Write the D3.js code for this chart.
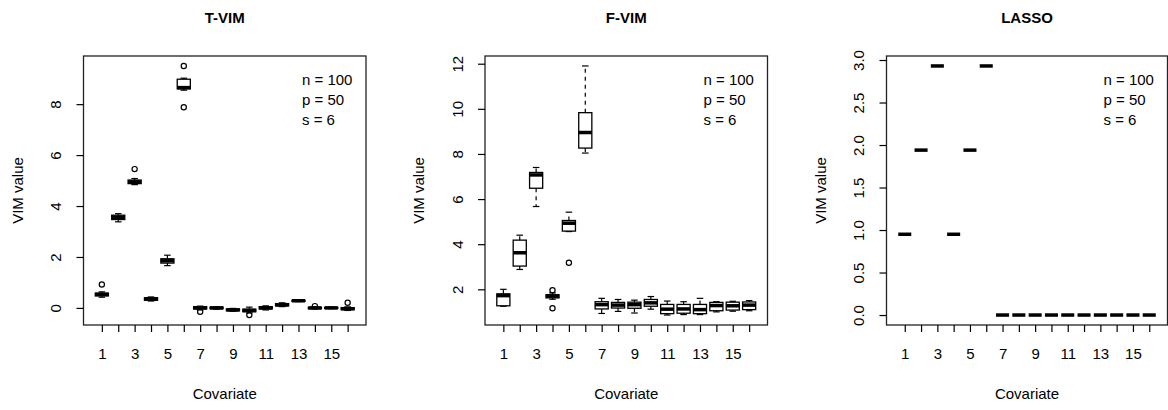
<!DOCTYPE html>
<html>
<head>
<meta charset="utf-8">
<script src="https://cdn.jsdelivr.net/npm/d3@7"></script>
<style>
	body { margin: 0; background: #fff; }
	svg { display: block; font-family: "Liberation Sans", Arial, sans-serif; }
</style>
</head>
<body>
<svg id="chart" width="1168" height="410"></svg>
<script>

var covariates = [1, 2, 3, 4, 5, 6, 7, 8, 9, 10, 11, 12, 13, 14, 15, 16];
var xLabels = [1, 3, 5, 7, 9, 11, 13, 15];
var legendLines = ['n = 100', 'p = 50', 's = 6'];

// T-VIM
var tvimLow  = [0.42, 3.38, 4.84, 0.27, 1.66, 8.55, -0.08, -0.05, -0.13, -0.20, -0.08, 0.05, 0.25, -0.04, -0.03, -0.10];
var tvimQ1   = [0.47, 3.47, 4.88, 0.30, 1.76, 8.60, -0.04, -0.03, -0.11, -0.15, -0.04, 0.08, 0.26, -0.03, -0.02, -0.07];
var tvimMed  = [0.53, 3.56, 4.95, 0.35, 1.85, 8.65, 0.00, 0.00, -0.08, -0.10, 0.00, 0.12, 0.28, 0.00, 0.00, -0.03];
var tvimQ3   = [0.58, 3.64, 5.02, 0.40, 1.93, 8.98, 0.05, 0.03, -0.04, -0.05, 0.05, 0.17, 0.30, 0.02, 0.02, 0.01];
var tvimHigh = [0.63, 3.70, 5.08, 0.43, 2.07, 9.02, 0.07, 0.05, -0.02, 0.03, 0.08, 0.20, 0.31, 0.04, 0.03, 0.04];
var tvimOut  = [[1, 0.92], [3, 5.45], [6, 9.50], [6, 7.88], [7, -0.15], [10, -0.28], [14, 0.07], [16, 0.20]];
var tvimTicks = [0, 2, 4, 6, 8];

// F-VIM
var fvimLow  = [1.25, 2.88, 5.67, 1.56, 4.56, 8.04, 0.93, 1.02, 0.95, 1.12, 0.86, 0.88, 0.88, 1.00, 1.03, 1.05];
var fvimQ1   = [1.27, 3.03, 6.48, 1.62, 4.58, 8.26, 1.13, 1.17, 1.16, 1.25, 0.92, 0.94, 0.92, 1.05, 1.08, 1.10];
var fvimMed  = [1.72, 3.62, 7.07, 1.70, 4.93, 8.95, 1.32, 1.30, 1.32, 1.40, 1.12, 1.13, 1.10, 1.28, 1.27, 1.30];
var fvimQ3   = [1.80, 4.18, 7.18, 1.76, 5.05, 9.83, 1.45, 1.42, 1.43, 1.55, 1.33, 1.33, 1.33, 1.42, 1.43, 1.44];
var fvimHigh = [2.00, 4.40, 7.40, 1.84, 5.42, 11.90, 1.60, 1.55, 1.52, 1.68, 1.48, 1.45, 1.60, 1.45, 1.47, 1.50];
var fvimOut  = [[4, 1.96], [4, 1.16], [5, 3.18]];
var fvimTicks = [2, 4, 6, 8, 10, 12];

// LASSO (no spread: every stat equals the median)
var lassoMed = [0.95, 1.94, 2.93, 0.95, 1.94, 2.93, 0, 0, 0, 0, 0, 0, 0, 0, 0, 0];
var lassoOut = [];
var lassoTicks = [0, 0.5, 1, 1.5, 2, 2.5, 3];

var panels = [
	{ title: 'T-VIM', left: 83.5, right: 366, low: tvimLow, q1: tvimQ1, med: tvimMed, q3: tvimQ3, high: tvimHigh, out: tvimOut, ticks: tvimTicks, fmt: d3.format('d') },
	{ title: 'F-VIM', left: 485, right: 767.5, low: fvimLow, q1: fvimQ1, med: fvimMed, q3: fvimQ3, high: fvimHigh, out: fvimOut, ticks: fvimTicks, fmt: d3.format('d') },
	{ title: 'LASSO', left: 886.5, right: 1167.5, low: lassoMed, q1: lassoMed, med: lassoMed, q3: lassoMed, high: lassoMed, out: lassoOut, ticks: lassoTicks, fmt: d3.format('.1f') }
];

var plotTop = 56;
var plotBottom = 325;
var svg = d3.select('#chart');

panels.forEach(function(p) {

	var vals = p.low.concat(p.high, p.out.map(function(d) { return d[1]; }));
	var ext = d3.extent(vals);
	var pad = (ext[1] - ext[0]) * 0.04;

	var x = d3.scaleLinear().domain([-0.12, 17.12]).range([p.left, p.right]);
	var y = d3.scaleLinear().domain([ext[0] - pad, ext[1] + pad]).range([plotBottom, plotTop]);
	var bw = (x(1.8) - x(1)) / 2;

	var g = svg.append('g');

	// boxes
	var box = g.selectAll('g.box').data(covariates).enter().append('g').attr('class', 'box');

	box.each(function(c, i) {
		var b = d3.select(this);
		var cx = x(c);
		var spread = p.q3[i] - p.q1[i] > 0 || p.high[i] - p.low[i] > 0;
		if (spread) {
			b.append('line').attr('x1', cx).attr('x2', cx).attr('y1', y(p.q3[i])).attr('y2', y(p.high[i]))
				.attr('stroke', '#000').attr('stroke-width', 1.2).attr('stroke-dasharray', '4,4');
			b.append('line').attr('x1', cx).attr('x2', cx).attr('y1', y(p.q1[i])).attr('y2', y(p.low[i]))
				.attr('stroke', '#000').attr('stroke-width', 1.2).attr('stroke-dasharray', '4,4');
			b.append('line').attr('x1', cx - bw / 2).attr('x2', cx + bw / 2).attr('y1', y(p.high[i])).attr('y2', y(p.high[i]))
				.attr('stroke', '#000').attr('stroke-width', 1.2);
			b.append('line').attr('x1', cx - bw / 2).attr('x2', cx + bw / 2).attr('y1', y(p.low[i])).attr('y2', y(p.low[i]))
				.attr('stroke', '#000').attr('stroke-width', 1.2);
			b.append('rect').attr('x', cx - bw).attr('width', bw * 2)
				.attr('y', y(p.q3[i])).attr('height', y(p.q1[i]) - y(p.q3[i]))
				.attr('fill', '#fff').attr('stroke', '#000').attr('stroke-width', 1.3);
		}
		b.append('line').attr('x1', cx - bw).attr('x2', cx + bw).attr('y1', y(p.med[i])).attr('y2', y(p.med[i]))
			.attr('stroke', '#000').attr('stroke-width', 3.5);
	});

	g.selectAll('circle.out').data(p.out).enter().append('circle')
		.attr('class', 'out')
		.attr('cx', function(d) { return x(d[0]); })
		.attr('cy', function(d) { return y(d[1]); })
		.attr('r', 2.6)
		.attr('fill', 'none')
		.attr('stroke', '#000')
		.attr('stroke-width', 1.2);

	// frame
	g.append('rect').attr('x', p.left).attr('y', plotTop).attr('width', p.right - p.left).attr('height', plotBottom - plotTop)
		.attr('fill', 'none').attr('stroke', '#222').attr('stroke-width', 1.3);

	// y axis
	var ya = g.append('g').attr('transform', 'translate(' + p.left + ',0)')
		.call(d3.axisLeft(y).tickValues(p.ticks).tickSize(7).tickSizeOuter(0).tickFormat(p.fmt));
	ya.select('.domain').remove();
	ya.selectAll('line').attr('stroke', '#000').attr('stroke-width', 1.2);
	ya.selectAll('text')
		.attr('transform', 'rotate(-90)')
		.attr('x', 0).attr('y', -22.5).attr('dy', null)
		.attr('text-anchor', 'middle')
		.attr('font-size', 15).attr('fill', '#000').attr('font-family', null);

	// x axis
	var xa = g.append('g').attr('transform', 'translate(0,' + plotBottom + ')')
		.call(d3.axisBottom(x).tickValues(covariates).tickSize(7).tickSizeOuter(0).tickPadding(16)
			.tickFormat(function(d) { return xLabels.indexOf(d) >= 0 ? d : ''; }));
	xa.select('.domain').remove();
	xa.selectAll('line').attr('stroke', '#000').attr('stroke-width', 1.2);
	xa.selectAll('text').attr('font-size', 15).attr('fill', '#000').attr('font-family', null);

	// titles
	var mid = (p.left + p.right) / 2;
	g.append('text').attr('x', mid).attr('y', 23).attr('text-anchor', 'middle')
		.attr('font-size', 15).attr('font-weight', 'bold').text(p.title);
	g.append('text').attr('x', mid).attr('y', 398.5).attr('text-anchor', 'middle')
		.attr('font-size', 15).text('Covariate');
	g.append('text').attr('transform', 'translate(' + (p.left - 61) + ',' + ((plotTop + plotBottom) / 2) + ') rotate(-90)')
		.attr('text-anchor', 'middle').attr('font-size', 15).text('VIM value');

	// sample settings
	g.selectAll('text.leg').data(legendLines).enter().append('text')
		.attr('class', 'leg')
		.attr('x', p.right - 64)
		.attr('y', function(d, i) { return 84.5 + i * 20; })
		.attr('font-size', 15)
		.text(function(d) { return d; });
});

</script>
</body>
</html>
